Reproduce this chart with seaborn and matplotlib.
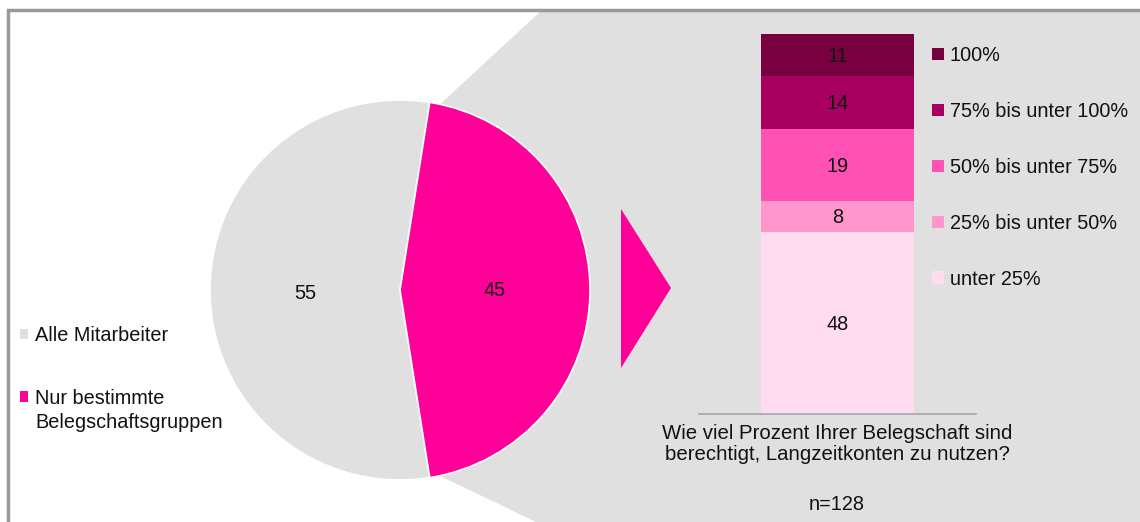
import numpy as np
import matplotlib
matplotlib.use("Agg")
import matplotlib.pyplot as plt
import seaborn as sns
from matplotlib.patches import Polygon, Patch

# ---------------------------------------------------------------------------
# DATA
# ---------------------------------------------------------------------------
pie_labels = ["Alle Mitarbeiter", "Nur bestimmte\nBelegschaftsgruppen"]
pie_values = [55, 45]
pie_colors = ["#E0E0E0", "#FF0099"]

# stacked bar, bottom to top
bar_labels = ["unter 25%", "25% bis unter 50%", "50% bis unter 75%",
              "75% bis unter 100%", "100%"]
bar_values = [48, 8, 19, 14, 11]
bar_colors = ["#FFDCF0", "#FF96CC", "#FF50B4", "#A80060", "#780040"]
bar_category = "Wie viel Prozent Ihrer Belegschaft sind\nberechtigt, Langzeitkonten zu nutzen?"
n_text = "n=128"

sns.set_style("white")
plt.rcParams["font.family"] = ["Liberation Sans", "DejaVu Sans"]
FS = 14.3
TXT = "#111111"

W, H = 1140, 522
fig = plt.figure(figsize=(W / 100, H / 100), dpi=100)
fig.patch.set_facecolor("white")

# ---------------------------------------------------------------------------
# BACKGROUND DECORATION (pixel coordinates)
# ---------------------------------------------------------------------------
bg = fig.add_axes([0, 0, 1, 1], zorder=0)
bg.set_xlim(0, W)
bg.set_ylim(H, 0)
bg.axis("off")
bg.add_patch(Polygon([(436, 108), (543, 9), (W, 9), (W, H), (536, H), (434, 473)],
                     closed=True, facecolor="#E0E0E0", edgecolor="none"))
bg.add_patch(Polygon([(621, 209), (621, 368), (671, 288)],
                     closed=True, facecolor="#FF0099", edgecolor="none"))
bg.plot([7.5, 7.5, W + 5], [H + 5, 9.5, 9.5], color="#999999", lw=2.5,
        solid_capstyle="butt", solid_joinstyle="miter")

# ---------------------------------------------------------------------------
# PIE
# ---------------------------------------------------------------------------
r = 190
cx, cy = 400, 290
pax = fig.add_axes([(cx - r) / W, (H - cy - r) / H, 2 * r / W, 2 * r / H], zorder=2)
wedges, _, autotexts = pax.pie(pie_values, colors=pie_colors, startangle=81,
                               counterclock=True,
                               wedgeprops=dict(edgecolor="white", linewidth=1.2),
                               autopct=lambda p: "%.0f" % p, pctdistance=0.5,
                               textprops=dict(fontsize=FS, color=TXT))
autotexts[0].set_y(autotexts[0].get_position()[1] - 0.02)
pax.set_xlim(-1, 1)
pax.set_ylim(-1, 1)
pax.set_aspect("auto")

# left legend: first line of each label next to the square
first_lines = [s.split("\n")[0] for s in pie_labels]
leg_l = fig.legend(handles=[Patch(facecolor=c, edgecolor="none") for c in pie_colors],
                   labels=first_lines, loc="upper left",
                   bbox_to_anchor=(20 / W, 1 - 326 / H), frameon=False,
                   fontsize=FS, handlelength=0.42, handleheight=0.42,
                   handletextpad=0.36, labelspacing=2.2, borderpad=0,
                   borderaxespad=0, labelcolor=TXT)

# ---------------------------------------------------------------------------
# STACKED BAR
# ---------------------------------------------------------------------------
tops = np.cumsum(bar_values)
bax = fig.add_axes([699 / W, (H - 414) / H, 277 / W, 380 / H], zorder=2)
bax.patch.set_alpha(0)
for i in range(len(bar_values) - 1, -1, -1):
    sns.barplot(x=[bar_category], y=[tops[i]], color=bar_colors[i],
                saturation=1, width=0.553, linewidth=0, ax=bax)
bottoms = tops - np.array(bar_values)
for v, b in zip(bar_values, bottoms):
    bax.text(0, b + v / 2 - 0.4, str(v), ha="center", va="center", fontsize=FS,
             color=TXT)
bax.set_xlim(-0.5, 0.5)
bax.set_ylim(0, 100)
bax.set_yticks([])
bax.set_ylabel("")
bax.set_xlabel("")
sns.despine(ax=bax, left=True, right=True, top=True)
bax.spines["bottom"].set_color("#A6A6A6")
bax.spines["bottom"].set_linewidth(1.2)
bax.tick_params(axis="x", length=0, pad=7, labelsize=14.7, labelcolor=TXT)
for t in bax.get_xticklabels():
    t.set_linespacing(1.12)

fig.text(837 / W, 1 - 505 / H, n_text, ha="center", va="center", fontsize=FS,
         color=TXT)

# right legend (top to bottom)
fig.legend(handles=[Patch(facecolor=c, edgecolor="none") for c in bar_colors[::-1]],
           labels=bar_labels[::-1], loc="upper left",
           bbox_to_anchor=(932 / W, 1 - 46 / H), frameon=False,
           fontsize=FS, handlelength=0.6, handleheight=0.6,
           handletextpad=0.3, labelspacing=1.86, borderpad=0,
           borderaxespad=0, labelcolor=TXT)

# second line of the pie legend label, under the first
fig.canvas.draw()
bb = leg_l.get_texts()[1].get_window_extent()
fig.text(bb.x0 / W, (bb.y0 - 24 + bb.height / 2) / H, pie_labels[1].split("\n")[1],
         ha="left", va="center", fontsize=FS, color=TXT)

fig.savefig("out.png", dpi=100)
